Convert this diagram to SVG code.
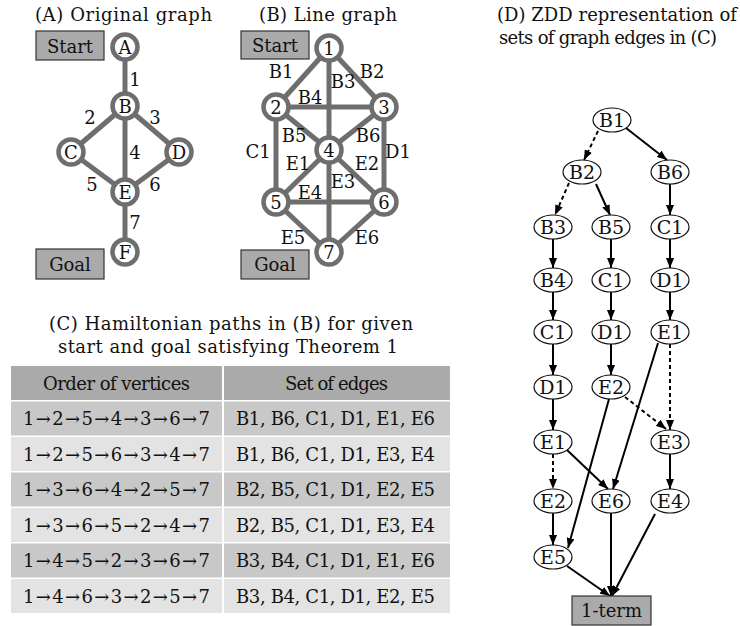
<svg xmlns="http://www.w3.org/2000/svg" width="740" height="626" viewBox="0 0 740 626">
<defs>
<style>
text{font-family:"DejaVu Serif","Liberation Serif",serif;font-size:18px;fill:#111}
.t{text-anchor:middle}
.zl{font-size:19px}
.box{fill:#aaaaaa;stroke:#333;stroke-width:1.2}
.ge{stroke:#6e6e6e;stroke-width:5;fill:none}
.gn{fill:#fff;stroke:#6e6e6e;stroke-width:4.5}
.zn{fill:#fff;stroke:#111;stroke-width:1.2}
.ze{stroke:#000;stroke-width:2;fill:none}
.zd{stroke:#000;stroke-width:2;fill:none;stroke-dasharray:4 3}
.h{fill:#aaaaaa}.o{fill:#c8c8c8}.e{fill:#e3e3e3}
</style>
<marker id="ah" markerUnits="userSpaceOnUse" markerWidth="11" markerHeight="8" refX="10" refY="4" orient="auto"><path d="M0,0 L10,4 L0,8 z" fill="#000"/></marker>
</defs>
<rect width="740" height="626" fill="#fff"/>

<!-- (A) Original graph -->
<text x="123.5" y="21" class="t" textLength="177" lengthAdjust="spacing">(A) Original graph</text>
<g id="connectors-A">
<line class="ge" x1="125" y1="47" x2="125" y2="106"/>
<line class="ge" x1="125" y1="106" x2="71" y2="152"/>
<line class="ge" x1="125" y1="106" x2="179" y2="152"/>
<line class="ge" x1="125" y1="106" x2="125" y2="192"/>
<line class="ge" x1="71" y1="152" x2="125" y2="192"/>
<line class="ge" x1="179" y1="152" x2="125" y2="192"/>
<line class="ge" x1="125" y1="192" x2="125" y2="252"/>
<text x="135" y="86" class="t">1</text>
<text x="90" y="124" class="t">2</text>
<text x="155" y="124" class="t">3</text>
<text x="135" y="159" class="t">4</text>
<text x="92" y="191" class="t">5</text>
<text x="155" y="191" class="t">6</text>
<text x="135" y="229" class="t">7</text>
</g>
<g id="startA"><rect class="box" x="36" y="31" width="68" height="29"/><text x="70" y="52.5" class="t">Start</text></g>
<g id="goalA"><rect class="box" x="36" y="249" width="68" height="30"/><text x="70" y="271" class="t">Goal</text></g>
<g id="nA"><circle class="gn" cx="125" cy="47" r="12.5"/><text x="125" y="53.5" class="t">A</text></g>
<g id="nB"><circle class="gn" cx="125" cy="106" r="12.5"/><text x="125" y="112.5" class="t">B</text></g>
<g id="nC"><circle class="gn" cx="71" cy="152" r="12.5"/><text x="71" y="158.5" class="t">C</text></g>
<g id="nD"><circle class="gn" cx="179" cy="152" r="12.5"/><text x="179" y="158.5" class="t">D</text></g>
<g id="nE"><circle class="gn" cx="125" cy="192" r="12.5"/><text x="125" y="198.5" class="t">E</text></g>
<g id="nF"><circle class="gn" cx="125" cy="252" r="12.5"/><text x="125" y="258.5" class="t">F</text></g>

<!-- (B) Line graph -->
<text x="328" y="21" class="t" textLength="138" lengthAdjust="spacing">(B) Line graph</text>
<g id="connectors-B">
<line class="ge" x1="329" y1="48" x2="276" y2="107"/>
<line class="ge" x1="329" y1="48" x2="384" y2="107"/>
<line class="ge" x1="329" y1="48" x2="329" y2="150"/>
<line class="ge" x1="276" y1="107" x2="384" y2="107"/>
<line class="ge" x1="276" y1="107" x2="329" y2="150"/>
<line class="ge" x1="384" y1="107" x2="329" y2="150"/>
<line class="ge" x1="276" y1="107" x2="276" y2="202"/>
<line class="ge" x1="384" y1="107" x2="384" y2="202"/>
<line class="ge" x1="329" y1="150" x2="276" y2="202"/>
<line class="ge" x1="329" y1="150" x2="384" y2="202"/>
<line class="ge" x1="329" y1="150" x2="329" y2="252"/>
<line class="ge" x1="276" y1="202" x2="384" y2="202"/>
<line class="ge" x1="276" y1="202" x2="329" y2="252"/>
<line class="ge" x1="384" y1="202" x2="329" y2="252"/>
<text x="281" y="78" class="t">B1</text>
<text x="372" y="78" class="t">B2</text>
<text x="343" y="88" class="t">B3</text>
<text x="310" y="104" class="t">B4</text>
<text x="294" y="142" class="t">B5</text>
<text x="368" y="142" class="t">B6</text>
<text x="258" y="158" class="t">C1</text>
<text x="398" y="158" class="t">D1</text>
<text x="298" y="170" class="t">E1</text>
<text x="367" y="170" class="t">E2</text>
<text x="343" y="188" class="t">E3</text>
<text x="310" y="199" class="t">E4</text>
<text x="293" y="244" class="t">E5</text>
<text x="367" y="244" class="t">E6</text>
</g>
<g id="startB"><rect class="box" x="241" y="31" width="68" height="28"/><text x="275" y="52" class="t">Start</text></g>
<g id="goalB"><rect class="box" x="241" y="250" width="68" height="29"/><text x="275" y="271" class="t">Goal</text></g>
<g id="n1"><circle class="gn" cx="329" cy="48" r="12.5"/><text x="329" y="54.5" class="t">1</text></g>
<g id="n2"><circle class="gn" cx="276" cy="107" r="12.5"/><text x="276" y="113.5" class="t">2</text></g>
<g id="n3"><circle class="gn" cx="384" cy="107" r="12.5"/><text x="384" y="113.5" class="t">3</text></g>
<g id="n4"><circle class="gn" cx="329" cy="150" r="12.5"/><text x="329" y="156.5" class="t">4</text></g>
<g id="n5"><circle class="gn" cx="276" cy="202" r="12.5"/><text x="276" y="208.5" class="t">5</text></g>
<g id="n6"><circle class="gn" cx="384" cy="202" r="12.5"/><text x="384" y="208.5" class="t">6</text></g>
<g id="n7"><circle class="gn" cx="329" cy="252" r="12.5"/><text x="329" y="258.5" class="t">7</text></g>

<!-- (C) table -->
<text x="231" y="330" class="t" textLength="364" lengthAdjust="spacing">(C) Hamiltonian paths in (B) for given</text>
<text x="228" y="353" class="t" textLength="340" lengthAdjust="spacing">start and goal satisfying Theorem 1</text>
<g id="table">
<rect class="h" x="11" y="366" width="211" height="34"/><rect class="h" x="224" y="366" width="226" height="34"/>
<rect class="o" x="11" y="401.5" width="211" height="34"/><rect class="o" x="224" y="401.5" width="226" height="34"/>
<rect class="e" x="11" y="437" width="211" height="34"/><rect class="e" x="224" y="437" width="226" height="34"/>
<rect class="o" x="11" y="472.5" width="211" height="34"/><rect class="o" x="224" y="472.5" width="226" height="34"/>
<rect class="e" x="11" y="508" width="211" height="34"/><rect class="e" x="224" y="508" width="226" height="34"/>
<rect class="o" x="11" y="543.5" width="211" height="34"/><rect class="o" x="224" y="543.5" width="226" height="34"/>
<rect class="e" x="11" y="579" width="211" height="34"/><rect class="e" x="224" y="579" width="226" height="34"/>
<text x="116.5" y="389.5" class="t" textLength="147" lengthAdjust="spacing">Order of vertices</text>
<text x="336.5" y="389.5" class="t" textLength="103" lengthAdjust="spacing">Set of edges</text>
<text x="116.5" y="425" class="t" textLength="187" lengthAdjust="spacing">1→2→5→4→3→6→7</text>
<text x="335.5" y="425" class="t" textLength="199" lengthAdjust="spacing">B1, B6, C1, D1, E1, E6</text>
<text x="116.5" y="460.5" class="t" textLength="187" lengthAdjust="spacing">1→2→5→6→3→4→7</text>
<text x="335.5" y="460.5" class="t" textLength="199" lengthAdjust="spacing">B1, B6, C1, D1, E3, E4</text>
<text x="116.5" y="496" class="t" textLength="187" lengthAdjust="spacing">1→3→6→4→2→5→7</text>
<text x="335.5" y="496" class="t" textLength="199" lengthAdjust="spacing">B2, B5, C1, D1, E2, E5</text>
<text x="116.5" y="531.5" class="t" textLength="187" lengthAdjust="spacing">1→3→6→5→2→4→7</text>
<text x="335.5" y="531.5" class="t" textLength="199" lengthAdjust="spacing">B2, B5, C1, D1, E3, E4</text>
<text x="116.5" y="567" class="t" textLength="187" lengthAdjust="spacing">1→4→5→2→3→6→7</text>
<text x="335.5" y="567" class="t" textLength="199" lengthAdjust="spacing">B3, B4, C1, D1, E1, E6</text>
<text x="116.5" y="602.5" class="t" textLength="187" lengthAdjust="spacing">1→4→6→3→2→5→7</text>
<text x="335.5" y="602.5" class="t" textLength="199" lengthAdjust="spacing">B3, B4, C1, D1, E2, E5</text>
</g>

<!-- (D) ZDD -->
<text x="497" y="21" textLength="240" lengthAdjust="spacing">(D) ZDD representation of</text>
<text x="499" y="44" textLength="218" lengthAdjust="spacing">sets of graph edges in (C)</text>
<g id="connectors-D">
<line class="zd" x1="598" y1="131" x2="584" y2="160" marker-end="url(#ah)"/>
<line class="ze" x1="626" y1="128" x2="667" y2="160" marker-end="url(#ah)"/>
<line class="zd" x1="569" y1="183" x2="555" y2="215" marker-end="url(#ah)"/>
<line class="ze" x1="596" y1="184" x2="610" y2="215" marker-end="url(#ah)"/>
<line class="ze" x1="670" y1="184" x2="670" y2="215" marker-end="url(#ah)"/>
<line class="ze" x1="553" y1="239" x2="553" y2="268" marker-end="url(#ah)"/>
<line class="ze" x1="611" y1="239" x2="611" y2="268" marker-end="url(#ah)"/>
<line class="ze" x1="670" y1="239" x2="670" y2="268" marker-end="url(#ah)"/>
<line class="ze" x1="553" y1="292" x2="553" y2="320" marker-end="url(#ah)"/>
<line class="ze" x1="611" y1="292" x2="611" y2="320" marker-end="url(#ah)"/>
<line class="ze" x1="670" y1="292" x2="670" y2="320" marker-end="url(#ah)"/>
<line class="ze" x1="553" y1="344" x2="553" y2="375" marker-end="url(#ah)"/>
<line class="ze" x1="611" y1="344" x2="611" y2="375" marker-end="url(#ah)"/>
<line class="zd" x1="670" y1="344" x2="670" y2="430" marker-end="url(#ah)"/>
<line class="ze" x1="658" y1="343" x2="613" y2="489" marker-end="url(#ah)"/>
<line class="ze" x1="553" y1="399" x2="553" y2="430" marker-end="url(#ah)"/>
<line class="zd" x1="625" y1="397" x2="666" y2="429" marker-end="url(#ah)"/>
<line class="ze" x1="609" y1="399" x2="568" y2="548" marker-end="url(#ah)"/>
<line class="zd" x1="553" y1="454" x2="553" y2="489" marker-end="url(#ah)"/>
<line class="ze" x1="567" y1="450" x2="608" y2="489" marker-end="url(#ah)"/>
<line class="ze" x1="670" y1="454" x2="670" y2="489" marker-end="url(#ah)"/>
<line class="ze" x1="553" y1="513" x2="553" y2="545" marker-end="url(#ah)"/>
<line class="ze" x1="611" y1="513" x2="611" y2="596" marker-end="url(#ah)"/>
<line class="ze" x1="655" y1="514" x2="612" y2="596" marker-end="url(#ah)"/>
<line class="ze" x1="567" y1="566" x2="610" y2="596" marker-end="url(#ah)"/>
</g>
<g id="zB1"><ellipse class="zn" cx="612" cy="120" rx="19" ry="12"/><text x="612" y="127" class="t zl">B1</text></g>
<g id="zB2"><ellipse class="zn" cx="582" cy="172" rx="19" ry="12"/><text x="582" y="179" class="t zl">B2</text></g>
<g id="zB6"><ellipse class="zn" cx="670" cy="172" rx="19" ry="12"/><text x="670" y="179" class="t zl">B6</text></g>
<g id="zB3"><ellipse class="zn" cx="553" cy="227" rx="19" ry="12"/><text x="553" y="234" class="t zl">B3</text></g>
<g id="zB5"><ellipse class="zn" cx="611" cy="227" rx="19" ry="12"/><text x="611" y="234" class="t zl">B5</text></g>
<g id="zC1c"><ellipse class="zn" cx="670" cy="227" rx="19" ry="12"/><text x="670" y="234" class="t zl">C1</text></g>
<g id="zB4"><ellipse class="zn" cx="553" cy="280" rx="19" ry="12"/><text x="553" y="287" class="t zl">B4</text></g>
<g id="zC1b"><ellipse class="zn" cx="611" cy="280" rx="19" ry="12"/><text x="611" y="287" class="t zl">C1</text></g>
<g id="zD1c"><ellipse class="zn" cx="670" cy="280" rx="19" ry="12"/><text x="670" y="287" class="t zl">D1</text></g>
<g id="zC1a"><ellipse class="zn" cx="553" cy="332" rx="19" ry="12"/><text x="553" y="339" class="t zl">C1</text></g>
<g id="zD1b"><ellipse class="zn" cx="611" cy="332" rx="19" ry="12"/><text x="611" y="339" class="t zl">D1</text></g>
<g id="zE1c"><ellipse class="zn" cx="670" cy="332" rx="19" ry="12"/><text x="670" y="339" class="t zl">E1</text></g>
<g id="zD1a"><ellipse class="zn" cx="553" cy="387" rx="19" ry="12"/><text x="553" y="394" class="t zl">D1</text></g>
<g id="zE2b"><ellipse class="zn" cx="611" cy="387" rx="19" ry="12"/><text x="611" y="394" class="t zl">E2</text></g>
<g id="zE1a"><ellipse class="zn" cx="553" cy="442" rx="19" ry="12"/><text x="553" y="449" class="t zl">E1</text></g>
<g id="zE3"><ellipse class="zn" cx="670" cy="442" rx="19" ry="12"/><text x="670" y="449" class="t zl">E3</text></g>
<g id="zE2a"><ellipse class="zn" cx="553" cy="501" rx="19" ry="12"/><text x="553" y="508" class="t zl">E2</text></g>
<g id="zE6"><ellipse class="zn" cx="611" cy="501" rx="19" ry="12"/><text x="611" y="508" class="t zl">E6</text></g>
<g id="zE4"><ellipse class="zn" cx="670" cy="501" rx="19" ry="12"/><text x="670" y="508" class="t zl">E4</text></g>
<g id="zE5"><ellipse class="zn" cx="553" cy="557" rx="19" ry="12"/><text x="553" y="564" class="t zl">E5</text></g>
<g id="zterm"><rect class="box" x="572" y="596" width="79" height="29"/><text x="611.5" y="617" class="t">1-term</text></g>
</svg>
